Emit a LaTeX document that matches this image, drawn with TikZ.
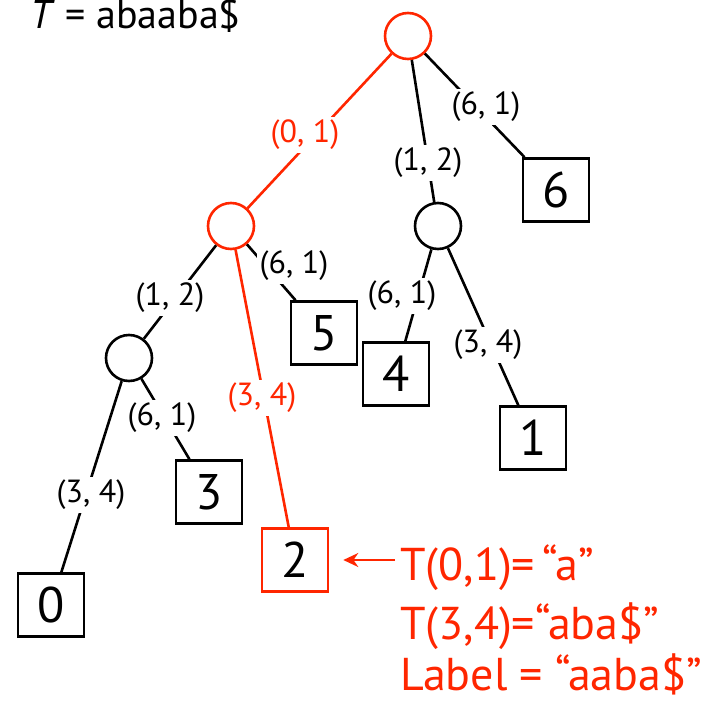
\documentclass[tikz,border=0pt]{standalone}
\usepackage{fontspec}
\setmainfont{PT Sans}
\usetikzlibrary{arrows.meta}
\definecolor{hl}{RGB}{255,38,0}
\begin{document}
\begin{tikzpicture}[x=1pt,y=-1pt,
  inner/.style={circle,draw,line width=2.6pt,minimum size=46pt,inner sep=0pt},
  leaf/.style={rectangle,draw,line width=2.6pt,minimum width=66pt,minimum height=63pt,inner sep=0pt,font=\fontsize{50}{50}\selectfont},
  elab/.style={fill=white,inner sep=3pt,font=\fontsize{32}{32}\selectfont},
  edge/.style={line width=2.6pt},
  note/.style={anchor=base west,text=hl,inner sep=0pt,font=\fontsize{46}{46}\selectfont}
]
\useasboundingbox (0,0) rectangle (714,701);
\node[anchor=base west,inner sep=0pt,font=\fontsize{40}{40}\selectfont] (title) at (30,29) {\textit{T} = abaaba\$};
% internal nodes
\node[inner,draw=hl] (r) at (408,36) {};
\node[inner,draw=hl] (a) at (231,226) {};
\node[inner] (m) at (438,226) {};
\node[inner] (b) at (129,358) {};
% leaves
\node[leaf] (l6) at (556,190) {6};
\node[leaf] (l5) at (324,333) {5};
\node[leaf] (l4) at (396,374) {4};
\node[leaf] (l1) at (533,438) {1};
\node[leaf] (l3) at (209,492) {3};
\node[leaf,draw=hl] (l2) at (295,560) {2};
\node[leaf] (l0) at (51,605) {0};
% edges
\draw[edge,hl] (r) -- (a);
\draw[edge] (r) -- (m);
\draw[edge] (r) -- (l6);
\draw[edge,hl] (a) -- (l2);
\draw[edge] (a) -- (l5);
\draw[edge] (a) -- (b);
\draw[edge] (m) -- (l4);
\draw[edge] (m) -- (l1);
\draw[edge] (b) -- (l3);
\draw[edge] (b) -- (l0);
% edge labels
\node[elab,text=hl] (e1) at (305,135) {(0, 1)};
\node[elab] (e2) at (486,107) {(6, 1)};
\node[elab] (e3) at (428,163) {(1, 2)};
\node[elab] (e4) at (294,266) {(6, 1)};
\node[elab] (e5) at (170,298) {(1, 2)};
\node[elab] (e6) at (402,296) {(6, 1)};
\node[elab] (e7) at (488,345) {(3, 4)};
\node[elab,text=hl] (e8) at (262,398) {(3, 4)};
\node[elab] (e9) at (162,418) {(6, 1)};
\node[elab] (e10) at (91,495) {(3, 4)};
% annotation
\node[note] (n1) at (400,580) {T(0,1)=\,“a”};
\node[note] (n2) at (400,639) {T(3,4)=“aba\$”};
\node[note] (n3) at (400,690) {Label = “aaba\$”};
\draw[hl,line width=2pt,-{Stealth[length=15pt,width=14pt]}] ([xshift=-5pt]n1.base west |- l2.east) -- ([xshift=14pt]l2.east);
\end{tikzpicture}
\end{document}
